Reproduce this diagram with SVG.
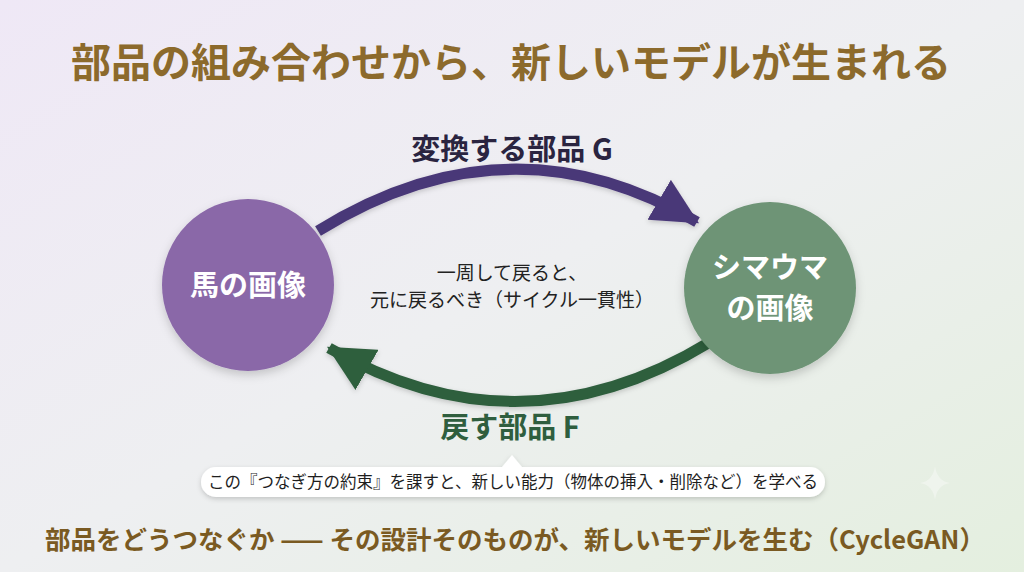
<svg xmlns="http://www.w3.org/2000/svg" width="1024" height="572" viewBox="0 0 1024 572">
<defs>
<linearGradient id="bg" x1="0" y1="0" x2="1" y2="1">
<stop offset="0" stop-color="#efe8f6"/>
<stop offset="0.5" stop-color="#eeeff1"/>
<stop offset="1" stop-color="#e4efdf"/>
</linearGradient>
<filter id="sh" x="-30%" y="-30%" width="160%" height="160%">
<feDropShadow dx="0" dy="4" stdDeviation="5" flood-color="#000" flood-opacity="0.18"/>
</filter>
<filter id="sh2" x="-10%" y="-50%" width="120%" height="200%">
<feDropShadow dx="0" dy="2" stdDeviation="2.5" flood-color="#000" flood-opacity="0.18"/>
</filter>
<marker id="ahG" viewBox="0 0 10 10" refX="9.5" refY="5" markerWidth="4.2" markerHeight="4.2" orient="auto" markerUnits="strokeWidth">
<path d="M0,0 L10,5 L0,10 z" fill="#4a3878"/>
</marker>
<marker id="ahF" viewBox="0 0 10 10" refX="9.5" refY="5" markerWidth="4.2" markerHeight="4.2" orient="auto" markerUnits="strokeWidth">
<path d="M0,0 L10,5 L0,10 z" fill="#2f5e3e"/>
</marker>
</defs>
<style>
.t{font-family:"Noto Sans CJK JP","Noto Sans",sans-serif;text-anchor:middle}
.title{font-size:40px;font-weight:700;fill:#8c6a2c}
.lbl{font-size:29px;font-weight:700}
.node{font-size:29px;font-weight:700;fill:#ffffff}
.mid{font-size:19px;fill:#222222}
.pill{font-size:16.5px;fill:#1e1e1e}
.foot{font-size:25.5px;font-weight:700;fill:#7a5a22}
</style>
<rect width="1024" height="572" fill="url(#bg)"/>
<text class="t title" x="511" y="77">部品の組み合わせから、新しいモデルが生まれる</text>

<g id="connectors" fill="none" stroke-width="11" stroke-linecap="butt" filter="url(#sh2)">
<path d="M318,231 Q510,112 697,222" stroke="#4a3878" marker-end="url(#ahG)"/>
<path d="M710,342 Q520,458 329,348" stroke="#2f5e3e" marker-end="url(#ahF)"/>
</g>

<text class="t lbl" x="512" y="160" fill="#2a2440">変換する部品 G</text>
<text class="t lbl" x="510" y="438" fill="#2f5e3e">戻す部品 F</text>

<g id="horse">
<circle cx="248" cy="285" r="86" fill="#8a68a8" filter="url(#sh)"/>
<text class="t node" x="248" y="296">馬の画像</text>
</g>
<g id="zebra">
<circle cx="770" cy="288" r="86" fill="#6e9476" filter="url(#sh)"/>
<text class="t node" x="770" y="278">シマウマ</text>
<text class="t node" x="770" y="319">の画像</text>
</g>
<g id="note">
<text class="t mid" x="512" y="280">一周して戻ると、</text>
<text class="t mid" x="512" y="307">元に戻るべき（サイクル一貫性）</text>
</g>
<g id="callout" filter="url(#sh2)">
<path d="M216,467 H502 L512,455 L522,467 H810 A15,15 0 0 1 810,497 H216 A15,15 0 0 1 216,467 Z" fill="#ffffff"/>
</g>
<text class="t pill" x="513" y="488">この『つなぎ方の約束』を課すと、新しい能力（物体の挿入・削除など）を学べる</text>
<path d="M935,466 Q937,481 950,483 Q937,485 935,500 Q933,485 920,483 Q933,481 935,466 Z" fill="#ffffff" opacity="0.35"/>
<text class="t foot" x="515" y="549">部品をどうつなぐか —— その設計そのものが、新しいモデルを生む（CycleGAN）</text>
</svg>
